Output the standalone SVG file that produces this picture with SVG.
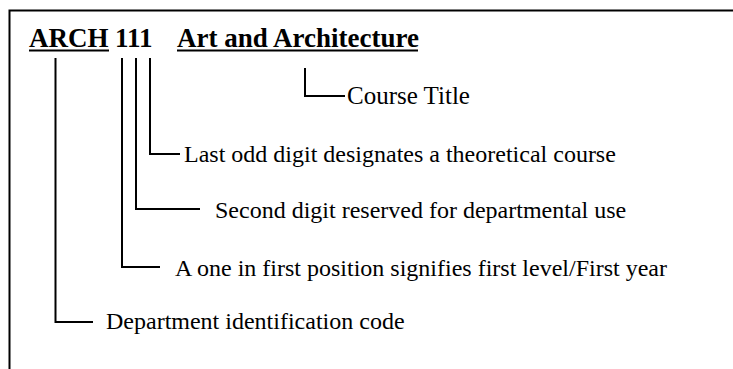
<svg xmlns="http://www.w3.org/2000/svg" width="733" height="369" viewBox="0 0 733 369">
<style>
.t{font-family:"Liberation Serif","Times New Roman",serif;font-size:24px;fill:#000}
.h{font-family:"Liberation Serif","Times New Roman",serif;font-size:27px;font-weight:bold;fill:#000}
.c{fill:none;stroke:#000;stroke-width:2}
</style>
<rect width="733" height="369" fill="#fff"/>
<path class="c" d="M9.5,369 V10.5 H733"/>
<g id="title">
<text class="h" x="29" y="47">ARCH</text>
<text class="h" x="115" y="47">111</text>
<text class="h" x="177" y="47">Art and Architecture</text>
<path class="c" d="M29,50.5 H109 M177,50.5 H418"/>
</g>
<g id="connectors">
<path class="c" d="M55.5,58 V322 H93"/>
<path class="c" d="M122,58 V267 H160"/>
<path class="c" d="M136,58 V209 H200"/>
<path class="c" d="M150,58 V154 H180"/>
<path class="c" d="M305,68 V96 H345"/>
</g>
<g id="n-course-title"><text class="t" x="347" y="104" style="font-size:25px">Course Title</text></g>
<g id="n-last-digit"><text class="t" x="184" y="162">Last odd digit designates a theoretical course</text></g>
<g id="n-second-digit"><text class="t" x="215" y="218">Second digit reserved for departmental use</text></g>
<g id="n-first-digit"><text class="t" x="175" y="276">A one in first position signifies first level/First year</text></g>
<g id="n-department"><text class="t" x="106" y="329">Department identification code</text></g>
</svg>
